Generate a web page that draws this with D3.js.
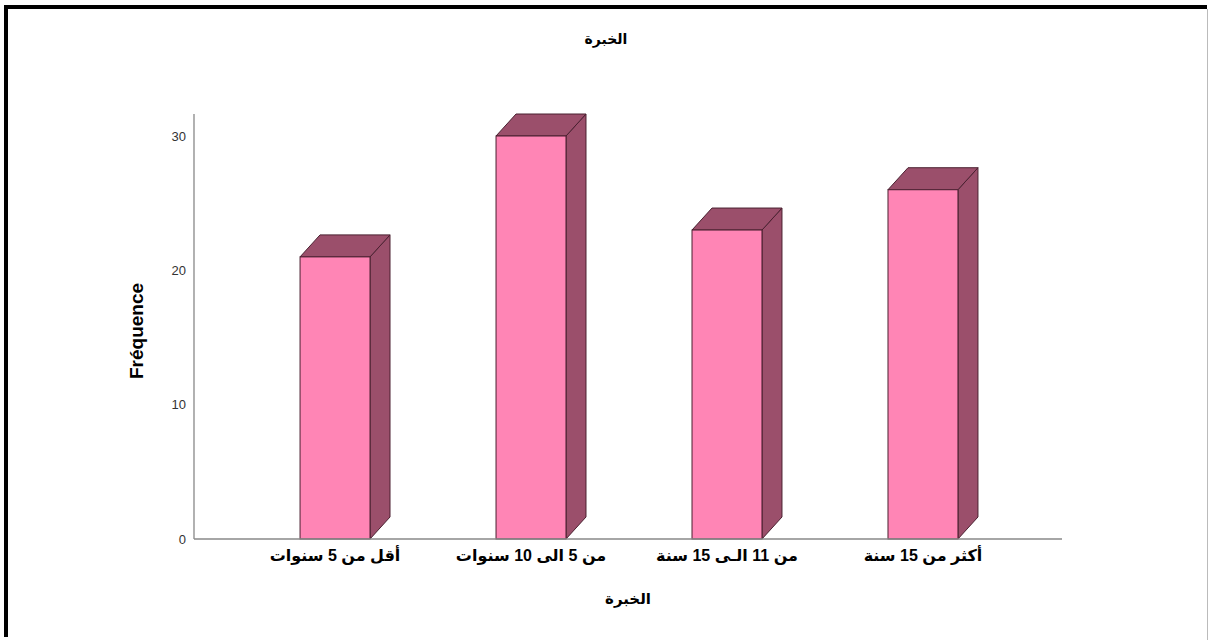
<!DOCTYPE html>
<html><head><meta charset="utf-8">
<script src="https://cdn.jsdelivr.net/npm/d3@7/dist/d3.min.js"></script>
<style>html,body{margin:0;padding:0;background:#fff;overflow:hidden}</style>
</head><body>
<svg id="c" width="1208" height="640"></svg>
<script>
const categories = ["أقل من 5 سنوات", "من 5 الى 10 سنوات", "من 11 الـى 15 سنة", "أكثر من 15 سنة"];
const values = [21, 30, 23, 26];
const yTicks = [0, 10, 20, 30];
const title = "الخبرة";
const xTitle = "الخبرة";
const yTitle = "Fréquence";

(function () {
const svg = d3.select("#c");
const font = "'Liberation Sans', Arial, 'DejaVu Sans', sans-serif";
const mLeft = 194, mRight = 1062, mBottom = 539, mTop = 136;
const dx = 20, dy = 22;

svg.append("rect").attr("width", 1208).attr("height", 640).attr("fill", "#fff");
// frame
svg.append("line").attr("x1", 6).attr("x2", 6).attr("y1", 5).attr("y2", 637).attr("stroke", "#000").attr("stroke-width", 4);
svg.append("line").attr("x1", 4).attr("x2", 1207).attr("y1", 7).attr("y2", 7).attr("stroke", "#000").attr("stroke-width", 4);
svg.append("line").attr("x1", 1207.5).attr("x2", 1207.5).attr("y1", 9).attr("y2", 640).attr("stroke", "#bbb").attr("stroke-width", 1);

const x = d3.scaleBand().domain(categories).range([mLeft + 1, mRight + 1]).paddingInner(0.643).paddingOuter(0.536);
const y = d3.scaleLinear().domain([0, 30]).range([mBottom, mTop]);

// y axis
const yAxis = svg.append("g").attr("transform", `translate(${mLeft},0)`)
  .call(d3.axisLeft(y).tickValues(yTicks).tickSize(0).tickPadding(8));
yAxis.select(".domain").remove();
yAxis.selectAll("text").attr("font-family", font).attr("font-size", 13).attr("fill", "#333");
svg.append("line").attr("x1", mLeft).attr("x2", mLeft).attr("y1", y(30) - dy).attr("y2", mBottom)
  .attr("stroke", "#888").attr("stroke-width", 1.3);

// x axis
const xAxis = svg.append("g").attr("transform", `translate(0,${mBottom})`)
  .call(d3.axisBottom(x).tickSize(0).tickPadding(11));
xAxis.select(".domain").remove();
xAxis.selectAll("text").attr("font-family", font).attr("font-size", 16).attr("font-weight", "bold")
  .attr("fill", "#000").attr("direction", "rtl").attr("text-anchor", "middle");

// bars
const g = svg.append("g");
const front = "#ff85b5", side = "#9b4f6b", edge = "#4a2030";
categories.forEach((c, i) => {
  const x0 = x(c), x1 = x0 + x.bandwidth(), yt = y(values[i]), yb = y(0);
  g.append("path").attr("d", `M${x1},${yb}L${x1},${yt}L${x1+dx},${yt-dy}L${x1+dx},${yb-dy}Z`)
    .attr("fill", side).attr("stroke", edge).attr("stroke-width", 1);
  g.append("path").attr("d", `M${x0},${yt}L${x0+dx},${yt-dy}L${x1+dx},${yt-dy}L${x1},${yt}Z`)
    .attr("fill", side).attr("stroke", edge).attr("stroke-width", 1);
  g.append("rect").attr("x", x0).attr("y", yt).attr("width", x.bandwidth()).attr("height", yb - yt)
    .attr("fill", front).attr("stroke", edge).attr("stroke-width", 1);
});

svg.append("line").attr("x1", mLeft).attr("x2", mRight).attr("y1", mBottom).attr("y2", mBottom)
  .attr("stroke", "#888").attr("stroke-width", 1.5);

svg.append("text").attr("x", 606).attr("y", 44).attr("text-anchor", "middle").attr("direction", "rtl")
  .attr("font-family", font).attr("font-size", 14).attr("font-weight", "bold").text(title);
svg.append("text").attr("x", 628).attr("y", 604).attr("text-anchor", "middle").attr("direction", "rtl")
  .attr("font-family", font).attr("font-size", 15).attr("font-weight", "bold").text(xTitle);
svg.append("text").attr("transform", "translate(143,331) rotate(-90)").attr("text-anchor", "middle")
  .attr("font-family", font).attr("font-size", 19).attr("font-weight", "bold").text(yTitle);
})();
</script>
</body></html>
